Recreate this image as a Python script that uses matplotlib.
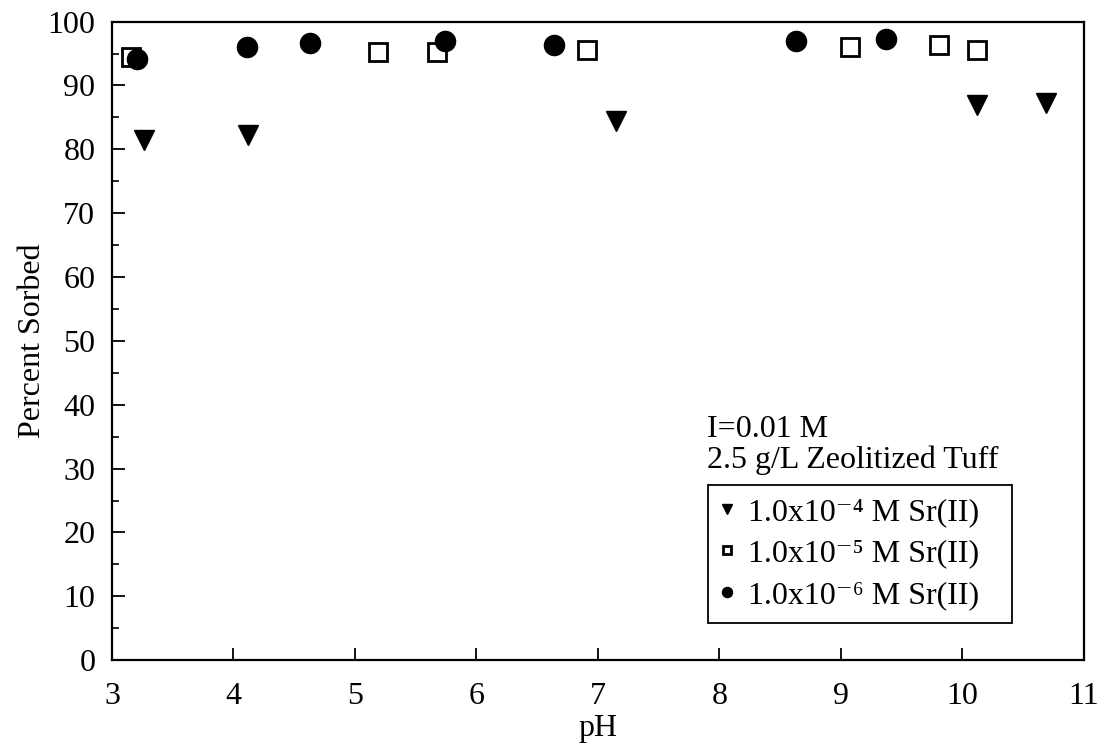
import matplotlib
matplotlib.use("Agg")
import matplotlib.pyplot as plt
from matplotlib.ticker import MultipleLocator

plt.rcParams['font.family'] = ['Liberation Serif', 'DejaVu Serif']

# 1.0e-4 M Sr(II)
ph_sr4 = [3.26, 4.12, 7.15, 10.12, 10.69]
sorb_sr4 = [81.4, 82.2, 84.5, 86.9, 87.3]
# 1.0e-5 M Sr(II)
ph_sr5 = [3.16, 5.19, 5.68, 6.91, 9.08, 9.81, 10.12]
sorb_sr5 = [94.4, 95.2, 95.3, 95.5, 96.0, 96.3, 95.6]
# 1.0e-6 M Sr(II)
ph_sr6 = [3.21, 4.11, 4.63, 5.74, 6.64, 8.63, 9.37]
sorb_sr6 = [94.1, 96.1, 96.6, 96.9, 96.3, 96.9, 97.3]

labels = ['1.0x10\u207b\u2074 M Sr(II)',
          '1.0x10\u207b\u2075 M Sr(II)',
          '1.0x10\u207b\u2076 M Sr(II)']

fig = plt.figure(figsize=(11.03, 7.46), dpi=100)
ax = fig.add_axes([0.1015, 0.115, 0.881, 0.856])

ax.plot(ph_sr4, sorb_sr4, 'v', c='k', ms=14, ls='none', label=labels[0])
ax.plot(ph_sr5, sorb_sr5, 's', mfc='white', mec='k', mew=2, ms=12.5, ls='none', label=labels[1])
ax.plot(ph_sr6, sorb_sr6, 'o', c='k', ms=14.5, ls='none', label=labels[2])

ax.set_xlim(3, 11)
ax.set_ylim(0, 100)
ax.xaxis.set_major_locator(MultipleLocator(1))
ax.yaxis.set_major_locator(MultipleLocator(10))
ax.yaxis.set_minor_locator(MultipleLocator(5))
ax.tick_params(axis='both', which='major', direction='in', length=9, width=1.3,
               labelsize=23)
ax.tick_params(axis='y', pad=12)
ax.tick_params(axis='x', pad=16)
ax.tick_params(axis='y', which='minor', direction='in', length=5, width=1.2)
for sp in ax.spines.values():
    sp.set_linewidth(1.6)

ax.set_xlabel('pH', fontsize=23, labelpad=2)
ax.set_ylabel('Percent Sorbed', fontsize=23, labelpad=0)

ax.text(0.612, 0.29, 'I=0.01 M\n2.5 g/L Zeolitized Tuff', transform=ax.transAxes,
        fontsize=23, linespacing=1.05, va='bottom', ha='left')
leg = ax.legend(loc='lower left', bbox_to_anchor=(0.613, 0.059, 0.3128, 0.2),
                mode='expand', borderaxespad=0,
                fontsize=23, markerscale=0.5, handlelength=0.4, handletextpad=0.45,
                labelspacing=0.38, borderpad=0.4, fancybox=False,
                edgecolor='k', framealpha=1)
leg.get_frame().set_linewidth(1.3)

fig.savefig('out.png', dpi=100)
